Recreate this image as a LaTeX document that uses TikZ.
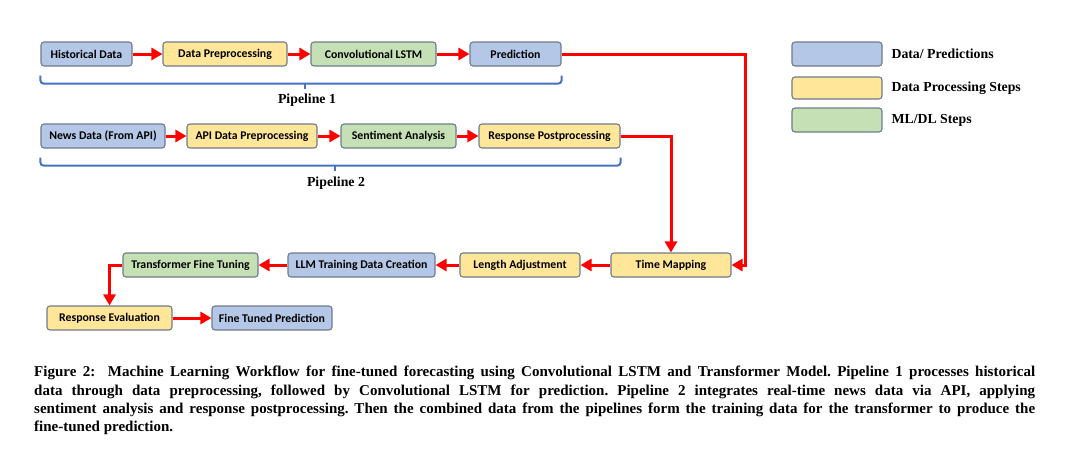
\documentclass[tikz,border=0pt]{standalone}
\usepackage{fontspec}
\setmainfont{Liberation Serif}
\newfontfamily\boxfont{Carlito}
\usetikzlibrary{positioning, arrows.meta, calc}
\definecolor{datablue}{HTML}{B4C7E7}
\definecolor{procyellow}{HTML}{FFE699}
\definecolor{mlgreen}{HTML}{C5E0B4}
\definecolor{boxedge}{HTML}{6E7B8B}
\definecolor{bracketblue}{HTML}{4472C4}

\tikzset{
  stepnode/.style={draw=boxedge, line width=1.1pt, rounded corners=3pt,
    minimum height=24pt, inner sep=0pt,
    font=\boxfont\bfseries\fontsize{11.8}{13}\selectfont},
  databox/.style={stepnode, fill=datablue},
  procbox/.style={stepnode, fill=procyellow},
  mlbox/.style={stepnode, fill=mlgreen},
  flow/.style={draw=red, line width=3pt, -{Triangle[length=11pt,width=12pt]}},
  bracket/.style={draw=bracketblue, line width=2pt},
  serifbold/.style={font=\bfseries\fontsize{13.8}{15}\selectfont}
}

\begin{document}
\begin{tikzpicture}[x=1pt, y=-1pt]
    \useasboundingbox (0,0) rectangle (1080,456);

    % pipeline 1
    \node[databox, minimum width=91pt]  (hist)  at (86.5,54) {Historical Data};
    \node[procbox, minimum width=124pt] (prep)  at (225,54)  {Data Preprocessing};
    \node[mlbox,   minimum width=125pt] (clstm) at (373.5,54) {Convolutional LSTM};
    \node[databox, minimum width=91pt]  (pred)  at (515.5,54) {Prediction};

    % pipeline 2
    \node[databox, minimum width=124pt] (news)     at (103,136)   {News Data (From API)};
    \node[procbox, minimum width=130pt] (apiprep)  at (252,136)   {API Data Preprocessing};
    \node[mlbox,   minimum width=115pt] (senti)    at (398.5,136) {Sentiment Analysis};
    \node[procbox, minimum width=141pt] (postproc) at (549.5,136) {Response Postprocessing};

    % combined part
    \node[procbox, minimum width=120pt] (timemap) at (671,265)   {Time Mapping};
    \node[procbox, minimum width=120pt] (lenadj)  at (520,265)   {Length Adjustment};
    \node[databox, minimum width=147pt] (llmdata) at (361.5,265) {LLM Training Data Creation};
    \node[mlbox,   minimum width=135pt] (tft)     at (190.5,265) {Transformer Fine Tuning};
    \node[procbox, minimum width=125pt] (reseval) at (109.5,318) {Response Evaluation};
    \node[databox, minimum width=120pt] (ftpred)  at (272,318)   {Fine Tuned Prediction};

    % arrows
    \draw[flow] (hist) -- (prep);
    \draw[flow] (prep) -- (clstm);
    \draw[flow] (clstm) -- (pred);
    \draw[flow] (news) -- (apiprep);
    \draw[flow] (apiprep) -- (senti);
    \draw[flow] (senti) -- (postproc);
    \draw[flow] (pred.east) -- ++(184,0) |- (timemap.east);
    \draw[flow] (postproc.east) -| (timemap.north);
    \draw[flow] (timemap) -- (lenadj);
    \draw[flow] (lenadj) -- (llmdata);
    \draw[flow] (llmdata) -- (tft);
    \draw[flow] (tft.west) -| (reseval.north);
    \draw[flow] (reseval) -- (ftpred);

    % brackets
    \draw[bracket, rounded corners=3pt] ($(hist.south west)+(0,9)$) -- ++(0,8)
        -- ($(pred.south east)+(0,17)$) -- ++(0,-8);
    \draw[bracket] ($(hist.south west)!0.5!(pred.south east)+(4,17)$) -- ++(0,5);
    \node[serifbold] (pipeone) at (307,100) {Pipeline 1};
    \draw[bracket, rounded corners=3pt] ($(news.south west)+(0,9)$) -- ++(0,8)
        -- ($(postproc.south east)+(0,17)$) -- ++(0,-8);
    \draw[bracket] ($(news.south west)!0.5!(postproc.south east)+(4,17)$) -- ++(0,5);
    \node[serifbold] (pipetwo) at (336,183) {Pipeline 2};

    % legend
    \node[databox, minimum width=90pt] (legdata) at (837,54) {};
    \node[procbox, minimum width=90pt, minimum height=22pt] (legproc) at (837,88) {};
    \node[mlbox,   minimum width=90pt] (legml)   at (837,120) {};
    \node[serifbold, anchor=west] (legdatatxt) at (888,54)  {Data/ Predictions};
    \node[serifbold, anchor=west] (legproctxt) at (888,88)  {Data Processing Steps};
    \node[serifbold, anchor=west] (legmltxt)   at (888,120) {ML/DL Steps};

    % caption
    \node[anchor=north west, text width=1001pt, align=justify, inner sep=0pt,
          font=\bfseries\fontsize{15}{18.3}\selectfont\frenchspacing] (caption) at (34,366)
      {Figure 2:\ \ Machine Learning Workflow for fine-tuned forecasting using Convolutional LSTM and Transformer Model. Pipeline 1 processes historical\linebreak
       data through data preprocessing, followed by Convolutional LSTM for prediction. Pipeline 2 integrates real-time news data via API, applying\linebreak
       sentiment analysis and response postprocessing. Then the combined data from the pipelines form the training data for the transformer to produce the\linebreak
       fine-tuned prediction.};
\end{tikzpicture}
\end{document}
